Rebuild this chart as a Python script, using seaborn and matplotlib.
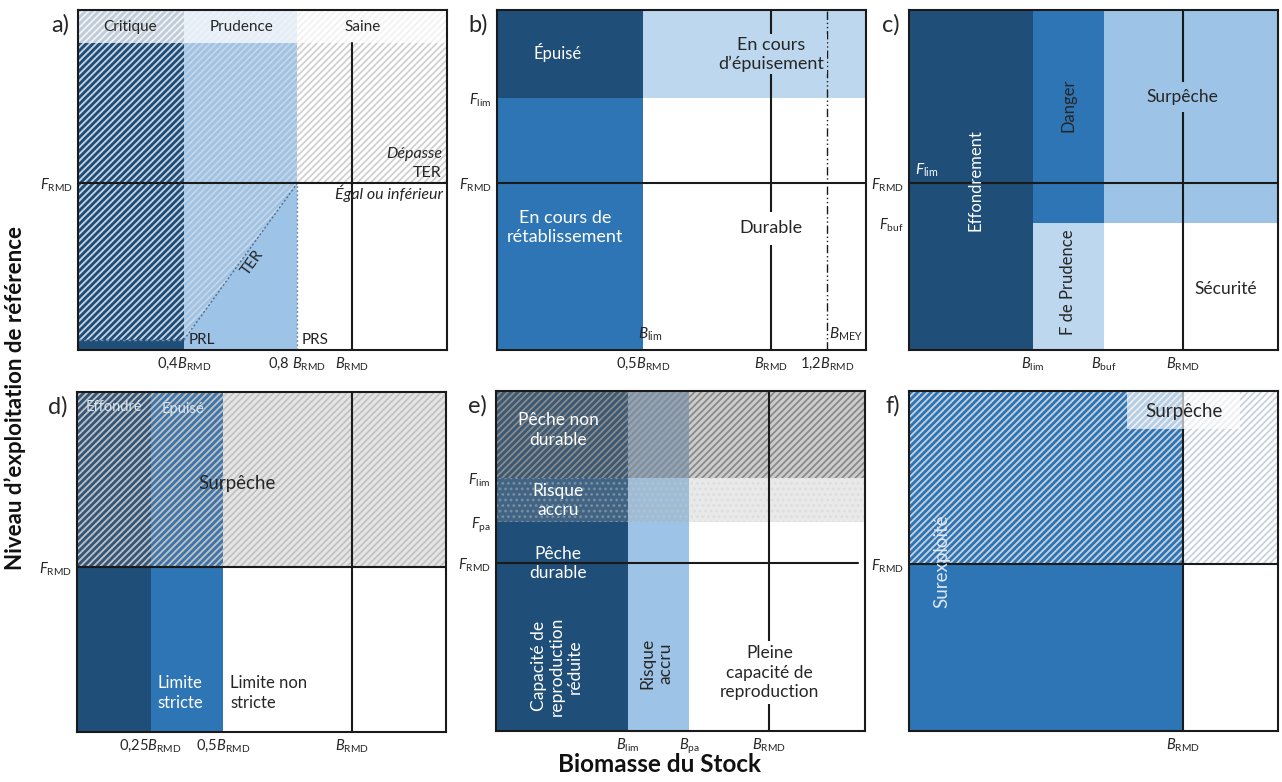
import numpy as np
import matplotlib.pyplot as plt
import seaborn as sns
from matplotlib.patches import Rectangle, Polygon

sns.set_theme(style="white")
plt.rcParams['font.family'] = ['Lato', 'DejaVu Sans']
plt.rcParams['mathtext.fontset'] = 'custom'
plt.rcParams['mathtext.rm'] = 'Lato'
plt.rcParams['mathtext.it'] = 'Lato:italic'
plt.rcParams['mathtext.bf'] = 'Lato:bold'
plt.rcParams['hatch.linewidth'] = 1.3

DARK = '#1f4e79'
MID = '#2e75b6'
LIGHT = '#9dc3e6'
PALE = '#bdd7ee'
TXT = '#262626'
LINE = '#1a1a1a'
HATCH = '/////'


def sym(s, sub):
    return r'$\mathit{' + s + r'}_{\mathrm{' + sub + r'}}$'


# ---- data: boundaries (fraction of each panel) ----
# a) TER
a_x = [0.287, 0.594, 0.743]
a_xlab = ['0,4' + sym('B', 'RMD'), '0,8 ' + sym('B', 'RMD'), sym('B', 'RMD')]
a_f = 0.49
a_prl = 0.03
a_band = 0.903
a_zones = ['Critique', 'Prudence', 'Saine']

# b)
b_x = [0.395, 0.743, 0.895]
b_xlab = ['0,5' + sym('B', 'RMD'), sym('B', 'RMD'), '1,2' + sym('B', 'RMD')]
b_y = [0.49, 0.741]
b_ylab = [sym('F', 'RMD'), sym('F', 'lim')]

# c)
c_x = [0.336, 0.528, 0.743]
c_xlab = [sym('B', 'lim'), sym('B', 'buf'), sym('B', 'RMD')]
c_y = [0.374, 0.49]
c_ylab = [sym('F', 'buf'), sym('F', 'RMD')]

# d)
d_x = [0.2, 0.396, 0.745]
d_xlab = ['0,25' + sym('B', 'RMD'), '0,5' + sym('B', 'RMD'), sym('B', 'RMD')]
d_f = 0.485

# e)
e_x = [0.357, 0.524, 0.741]
e_xlab = [sym('B', 'lim'), sym('B', 'pa'), sym('B', 'RMD')]
e_y = [0.493, 0.614, 0.743]
e_ylab = [sym('F', 'RMD'), sym('F', 'pa'), sym('F', 'lim')]

# f)
f_x = [0.743]
f_xlab = [sym('B', 'RMD')]
f_f = 0.49

fig = plt.figure(figsize=(12.82, 7.82), dpi=100)
W, H = 369 / 1282, 340 / 782
pos = {'a': (78, 350), 'b': (497, 350), 'c': (909, 350),
       'd': (77, 732), 'e': (496, 731), 'f': (909, 731)}


def panel(key, xt, xl, yt, yl):
    l, b = pos[key]
    ax = fig.add_axes([l / 1282, (782 - b) / 782, W, H])
    ax.set_xlim(0, 1)
    ax.set_ylim(0, 1)
    ax.set_xticks(xt, xl)
    ax.set_yticks(yt, yl)
    ax.tick_params(length=0, labelsize=10.5, colors=TXT, pad=4)
    for s in ax.spines.values():
        s.set_color(LINE)
        s.set_linewidth(1.5)
        s.set_zorder(10)
    ax.text(-0.025, 0.955, key + ')', transform=ax.transAxes, ha='right',
            va='center', fontsize=17, color=TXT)
    return ax


def box(ax, x0, x1, y0, y1, color, z=1, alpha=1):
    ax.add_patch(Rectangle((x0, y0), x1 - x0, y1 - y0, facecolor=color,
                           lw=0, zorder=z, alpha=alpha))


def hatch(ax, x0, x1, y0, y1, color, pat=HATCH, z=2):
    ax.add_patch(Rectangle((x0, y0), x1 - x0, y1 - y0, facecolor='none',
                           edgecolor=color, hatch=pat, lw=0, zorder=z))


def hline(ax, y, x0=0, x1=1, **kw):
    ax.plot([x0, x1], [y, y], color=LINE, lw=1.5, zorder=5, **kw)


def vline(ax, x, y0=0, y1=1, **kw):
    kw.setdefault('color', LINE)
    kw.setdefault('lw', 1.5)
    ax.plot([x, x], [y0, y1], zorder=5, **kw)


# ---------------- a) ----------------
ax = panel('a', a_x, a_xlab, [a_f], [sym('F', 'RMD')])
box(ax, 0, a_x[0], 0, 1, DARK)
box(ax, a_x[0], a_x[1], 0, 1, LIGHT)
ax.add_patch(Polygon([(0, a_prl), (a_x[0], a_prl), (a_x[1], a_f), (a_x[1], 1), (0, 1)],
                     facecolor='none', edgecolor='#c9d5e3', hatch=HATCH, lw=0, zorder=2))
hatch(ax, a_x[1], 1, a_f, 1, '#d0d0d0')
box(ax, 0, 1, a_band, 1, 'white', z=3, alpha=0.72)
ax.plot([0, a_x[0]], [a_prl, a_prl], color='#6d8fb5', lw=1, ls=(0, (2, 2)), zorder=4)
ax.plot([a_x[0], a_x[1]], [a_prl, a_f], color='#4f6f92', lw=1, ls=(0, (1.5, 1.5)), zorder=4)
vline(ax, a_x[1], 0, a_f, color='#6d8fb5', lw=1, ls=(0, (1.5, 1.5)))
hline(ax, a_f)
vline(ax, a_x[2], 0, a_band)
for xc, t in zip([0.141, 0.444, 0.772], a_zones):
    ax.text(xc, 0.951, t, ha='center', va='center', fontsize=11, color=TXT, zorder=6)
ax.text(0.986, 0.576, 'Dépasse', style='italic', ha='right', va='center', fontsize=11.5, color=TXT, zorder=6)
ax.text(0.986, 0.52, 'TER', ha='right', va='center', fontsize=11.5, color=TXT, zorder=6)
ax.text(0.99, 0.462, 'Égal ou inférieur', style='italic', ha='right', va='center', fontsize=11.5, color=TXT, zorder=6)
ax.text(0.474, 0.256, 'TER', rotation=54, ha='center', va='center', fontsize=11, color=TXT, zorder=6)
ax.text(0.3, 0.03, 'PRL', ha='left', va='center', fontsize=11, color=TXT, zorder=6)
ax.text(0.607, 0.03, 'PRS', ha='left', va='center', fontsize=11, color=TXT, zorder=6)

# ---------------- b) ----------------
ax = panel('b', b_x, b_xlab, b_y, b_ylab)
box(ax, 0, b_x[0], b_y[1], 1, DARK)
box(ax, 0, b_x[0], 0, b_y[1], MID)
box(ax, b_x[0], 1, b_y[1], 1, PALE)
hline(ax, b_y[0])
vline(ax, b_x[1])
vline(ax, b_x[2], lw=1, ls=(0, (6, 2, 1, 2, 1, 2)))
ax.text(0.165, 0.876, 'Épuisé', ha='center', va='center', fontsize=12, color='white', zorder=6)
ax.text(0.184, 0.36, 'En cours de\nrétablissement', ha='center', va='center', fontsize=13,
        color='white', zorder=6, linespacing=1.2)
ax.text(0.743, 0.87, 'En cours\nd’épuisement', ha='center', va='center', fontsize=13,
        color=TXT, zorder=6, linespacing=1.2,
        bbox=dict(facecolor=PALE, edgecolor='none', pad=2))
ax.text(0.743, 0.358, 'Durable', ha='center', va='center', fontsize=13, color=TXT, zorder=6,
        bbox=dict(facecolor='white', edgecolor='none', pad=6))
ax.text(0.414, 0.045, sym('B', 'lim'), ha='center', va='center', fontsize=11, color=TXT, zorder=6)
ax.text(0.9, 0.045, sym('B', 'MEY'), ha='left', va='center', fontsize=11, color=TXT, zorder=6)

# ---------------- c) ----------------
ax = panel('c', c_x, c_xlab, c_y, c_ylab)
box(ax, 0, c_x[0], 0, 1, DARK)
box(ax, c_x[0], c_x[1], c_y[0], 1, MID)
box(ax, c_x[0], c_x[1], 0, c_y[0], PALE)
box(ax, c_x[1], 1, c_y[0], 1, LIGHT)
hline(ax, c_y[1])
vline(ax, c_x[2])
ax.text(0.017, 0.53, sym('F', 'lim'), ha='left', va='center', fontsize=11, color='white', zorder=6)
ax.text(0.18, 0.5, 'Effondrement', rotation=90, ha='center', va='center', fontsize=12,
        color='white', zorder=6)
ax.text(0.432, 0.72, 'Danger', rotation=90, ha='center', va='center', fontsize=12, color=TXT, zorder=6)
ax.text(0.432, 0.2, 'F de Prudence', rotation=90, ha='center', va='center', fontsize=12, color=TXT, zorder=6)
ax.text(0.74, 0.745, 'Surpêche', ha='center', va='center', fontsize=12.5, color=TXT, zorder=6,
        bbox=dict(facecolor=LIGHT, edgecolor='none', pad=5))
ax.text(0.857, 0.18, 'Sécurité', ha='center', va='center', fontsize=12.5, color=TXT, zorder=6)

# ---------------- d) ----------------
ax = panel('d', d_x, d_xlab, [d_f], [sym('F', 'RMD')])
box(ax, 0, d_x[0], 0, 1, DARK)
box(ax, d_x[0], d_x[1], 0, 1, MID)
box(ax, 0, 1, d_f, 1, '#7f7f7f', z=2, alpha=0.2)
hatch(ax, 0, 1, d_f, 1, '#c2c2c2', z=3)
hline(ax, d_f)
vline(ax, d_x[2])
ax.text(0.1, 0.956, 'Effondré', ha='center', va='center', fontsize=10.5, color='#dde3ea', zorder=6)
ax.text(0.287, 0.956, 'Épuisé', ha='center', va='center', fontsize=10.5, color='#dde3ea', zorder=6)
ax.text(0.434, 0.732, 'Surpêche', ha='center', va='center', fontsize=13.5, color=TXT, zorder=6)
ax.text(0.217, 0.115, 'Limite\nstricte', ha='left', va='center', fontsize=12, color='white',
        zorder=6, linespacing=1.25)
ax.text(0.415, 0.115, 'Limite non\nstricte', ha='left', va='center', fontsize=12, color=TXT,
        zorder=6, linespacing=1.25)

# ---------------- e) ----------------
ax = panel('e', e_x, e_xlab, e_y, e_ylab)
box(ax, 0, e_x[0], 0, 1, DARK)
box(ax, e_x[0], e_x[1], 0, 1, LIGHT)
box(ax, 0, 1, e_y[2], 1, '#6f6f6f', z=2, alpha=0.35)
hatch(ax, 0, 1, e_y[2], 1, '#8a8a8a', z=3)
box(ax, 0, 1, e_y[1], e_y[2], '#a8a8a8', z=2, alpha=0.25)
hatch(ax, 0, 1, e_y[1], e_y[2], (0.8, 0.8, 0.8, 0.35), pat='...', z=3)
hline(ax, e_y[0], 0, 0.98)
vline(ax, e_x[2])
ax.text(0.168, 0.885, 'Pêche non\ndurable', ha='center', va='center', fontsize=12.5, color='white',
        zorder=6, linespacing=1.25)
ax.text(0.168, 0.678, 'Risque\naccru', ha='center', va='center', fontsize=12.5, color='white',
        zorder=6, linespacing=1.25)
ax.text(0.168, 0.493, 'Pêche\ndurable', ha='center', va='center', fontsize=12.5, color='white',
        zorder=6, linespacing=1.25)
ax.text(0.165, 0.19, 'Capacité de\nreproduction\nréduite', rotation=90, ha='center', va='center',
        fontsize=12.5, color='white', zorder=6, linespacing=1.15)
ax.text(0.435, 0.2, 'Risque\naccru', rotation=90, ha='center', va='center', fontsize=12.5,
        color=TXT, zorder=6, linespacing=1.15)
ax.text(0.741, 0.172, 'Pleine\ncapacité de\nreproduction', ha='center', va='center', fontsize=12.5,
        color=TXT, zorder=6, linespacing=1.25,
        bbox=dict(facecolor='white', edgecolor='none', pad=3))

# ---------------- f) ----------------
ax = panel('f', f_x, f_xlab, [f_f], [sym('F', 'RMD')])
box(ax, 0, f_x[0], 0, 1, MID)
hatch(ax, 0, 1, f_f, 1, '#c9d2dc')
hline(ax, f_f)
vline(ax, f_x[0])
box(ax, 0.59, 0.897, 0.888, 1, 'white', z=6, alpha=0.65)
ax.text(0.745, 0.94, 'Surpêche', ha='center', va='center', fontsize=13.5, color=TXT, zorder=7)
ax.text(0.09, 0.5, 'Surexploité', rotation=90, ha='center', va='center', fontsize=13.5,
        color='#dfe8f2', zorder=7)

fig.text(15 / 1282, 1 - 398 / 782, 'Niveau d’exploitation de référence', rotation=90,
         ha='center', va='center', fontsize=16, fontweight='bold', color='#111111')
fig.text(660 / 1282, 1 - 765 / 782, 'Biomasse du Stock', ha='center', va='center',
         fontsize=17.5, fontweight='bold', color='#111111')

fig.savefig('out.png', dpi=100, facecolor='white')
